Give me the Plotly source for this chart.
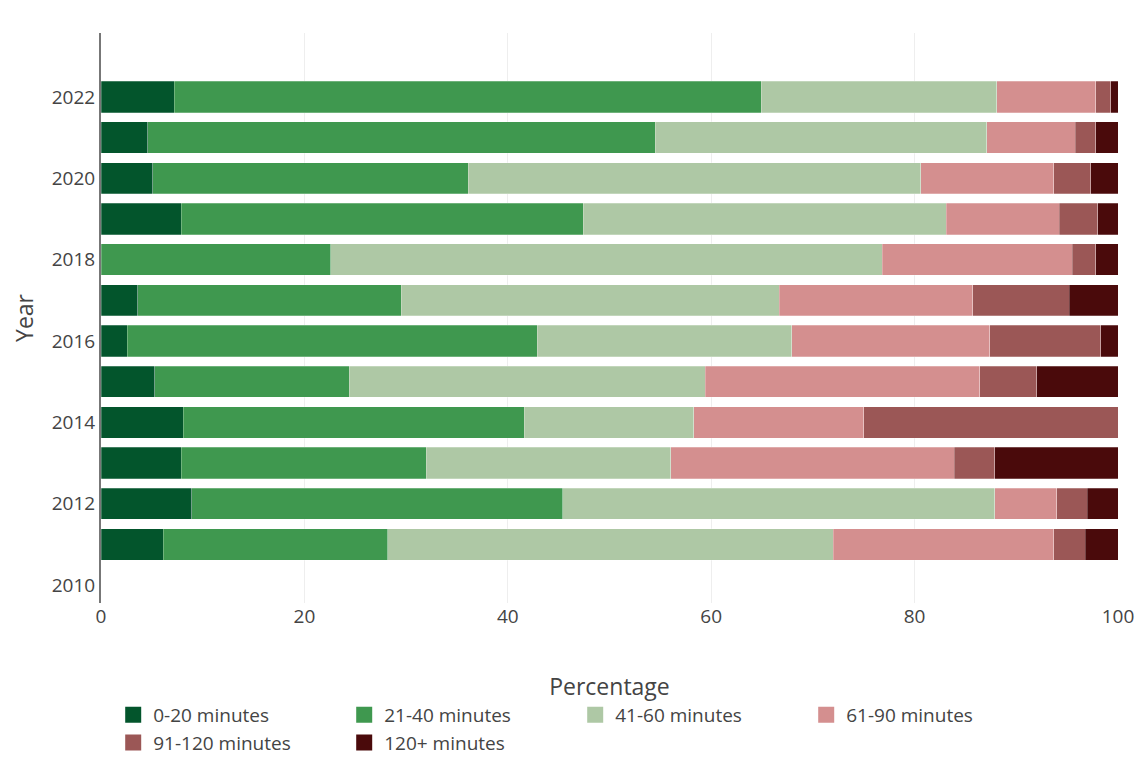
import plotly.graph_objects as go

years = [2011, 2012, 2013, 2014, 2015, 2016, 2017, 2018, 2019, 2020, 2021, 2022]
min_0_20 = [6.1, 8.9, 7.9, 8.1, 5.3, 2.6, 3.6, 0.0, 7.9, 5.1, 4.6, 7.2]
min_21_40 = [22.1, 36.5, 24.1, 33.5, 19.1, 40.3, 25.9, 22.6, 39.5, 31.0, 49.9, 57.7]
min_41_60 = [43.8, 42.5, 24.0, 16.7, 35.0, 25.0, 37.2, 54.2, 35.7, 44.5, 32.6, 23.2]
min_61_90 = [21.7, 6.1, 27.9, 16.7, 27.0, 19.5, 19.0, 18.7, 11.1, 13.1, 8.7, 9.7]
min_91_120 = [3.1, 3.0, 4.0, 25.0, 5.6, 10.9, 9.5, 2.3, 3.8, 3.6, 2.0, 1.5]
min_120_plus = [3.2, 3.0, 12.1, 0.0, 8.0, 1.7, 4.8, 2.2, 2.0, 2.7, 2.2, 0.7]

series_names = ["0-20 minutes", "21-40 minutes", "41-60 minutes",
                "61-90 minutes", "91-120 minutes", "120+ minutes"]
series_values = [min_0_20, min_21_40, min_41_60, min_61_90, min_91_120, min_120_plus]
colors = ["#03552c", "#3f984f", "#aec8a5", "#d48f8f", "#9b5756", "#4a0a0b"]

fig = go.Figure()
for name, vals, col in zip(series_names, series_values, colors):
    fig.add_trace(go.Bar(
        y=years, x=vals, name=name, orientation="h",
        legendgroup=name, showlegend=False,
        marker=dict(color=col, line=dict(color="rgba(255,255,255,0.5)", width=0.5)),
    ))
# legend entries (larger square swatches)
for name, col in zip(series_names, colors):
    fig.add_trace(go.Scatter(
        x=[None], y=[None], mode="markers", name=name, legendgroup=name,
        marker=dict(symbol="square", size=16, color=col),
    ))

fig.update_layout(
    barmode="stack",
    bargap=0.23,
    width=1135, height=759,
    paper_bgcolor="white", plot_bgcolor="white",
    font=dict(family="Open Sans", size=19, color="#444"),
    margin=dict(l=93, r=25, t=25, b=164, autoexpand=False),
    xaxis=dict(
        title=dict(text="Percentage", font=dict(size=23), standoff=50),
        range=[0, 100], tickvals=[0, 20, 40, 60, 80, 100],
        showgrid=True, gridcolor="#eeeeee", zeroline=False, showline=False,
        ticks="", tickfont=dict(size=19), automargin=False,
    ),
    yaxis=dict(
        title=dict(text="Year", font=dict(size=23), standoff=14),
        range=[2009.56, 2023.57], tickvals=[2010, 2012, 2014, 2016, 2018, 2020, 2022],
        showgrid=False, zeroline=False, showline=True, linecolor="#777", linewidth=2,
        ticks="", tickfont=dict(size=19), automargin=False,
    ),
    legend=dict(
        orientation="h", x=0.012, xanchor="left", y=-0.163, yanchor="top",
        font=dict(size=19), traceorder="normal", entrywidth=186,
    ),
)

fig.write_html("out.html")
